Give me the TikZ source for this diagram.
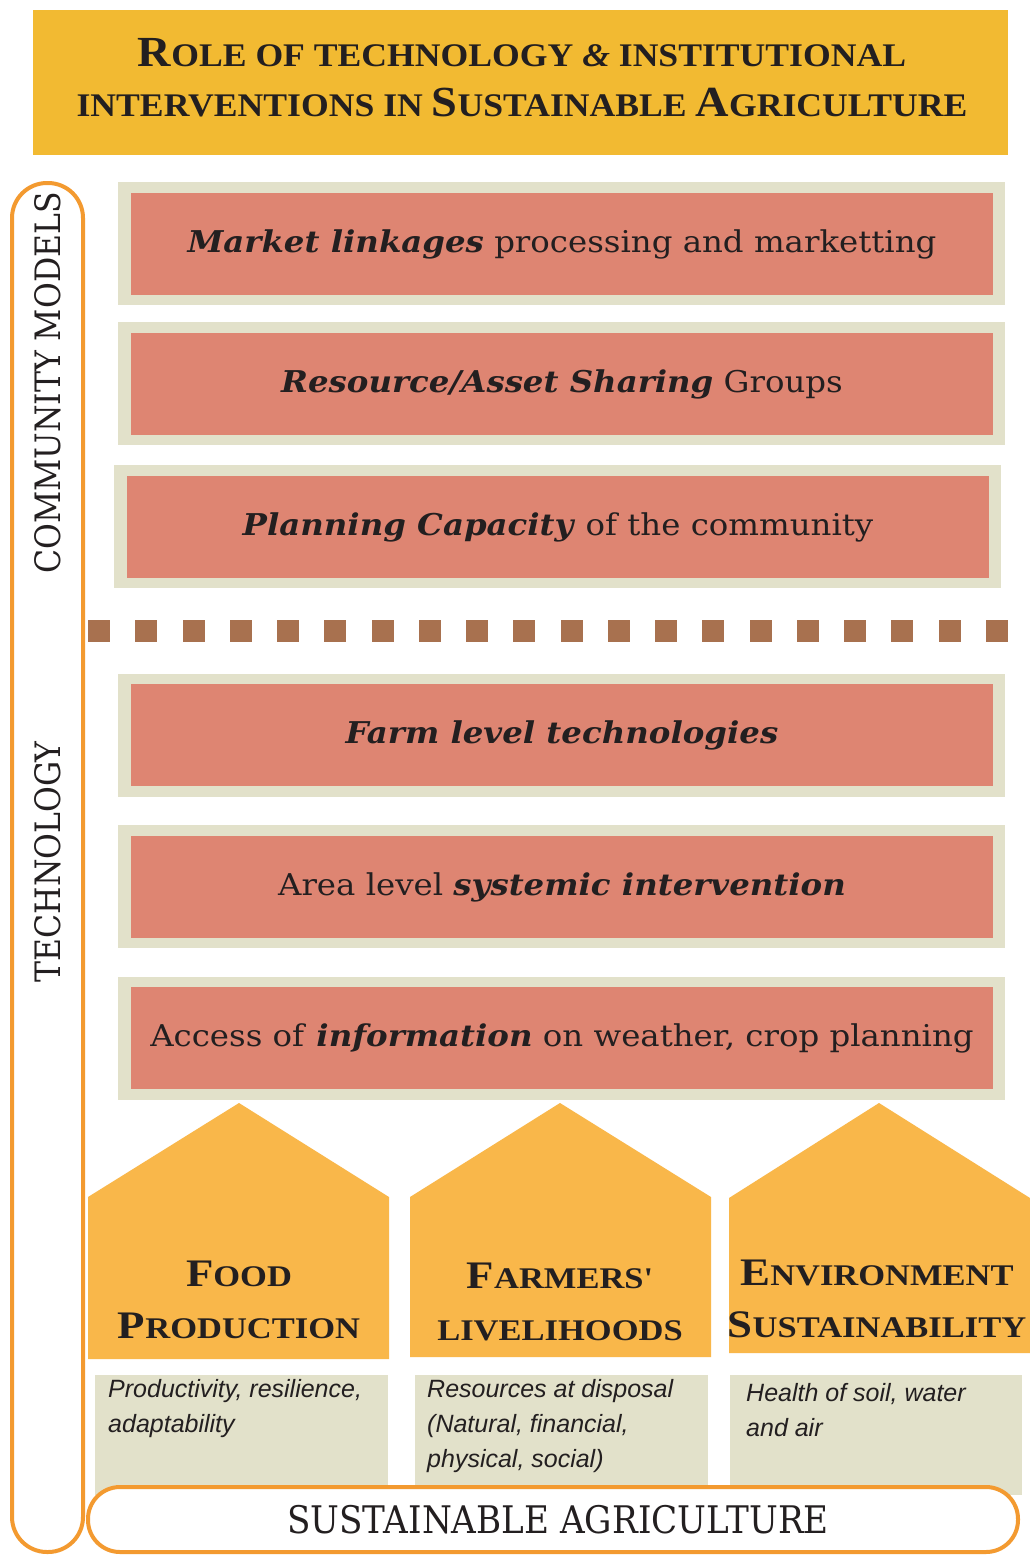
\documentclass[tikz,border=0pt]{standalone}
\usepackage{fontspec}
\usepackage{graphicx}
\setmainfont{DejaVu Serif}
\newfontfamily\titlefont{Liberation Serif}[FakeStretch=1.08]
\newfontfamily\housefont{Liberation Serif}[FakeStretch=1.15]
\newfontfamily\barfont{DejaVu Serif}[FakeStretch=1.08]
\newfontfamily\slabfont{DejaVu Serif}[FakeStretch=0.9]
\newfontfamily\notefont{Liberation Sans}

\definecolor{titlegold}{HTML}{F2BA32}
\definecolor{housegold}{HTML}{F9B74A}
\definecolor{barsalmon}{HTML}{DE8572}
\definecolor{barbeige}{HTML}{E2E1CA}
\definecolor{squarebrown}{HTML}{A8714F}
\definecolor{pillorange}{HTML}{F39A30}
\definecolor{inkdark}{HTML}{231F20}

% a larger capital in front of small capitals
\newcommand\leadcap[1]{\scalebox{1.3}{#1}}

\tikzset{
  barback/.style={fill=barbeige, minimum width=887pt, minimum height=123pt, inner sep=0pt},
  barface/.style={fill=barsalmon, minimum width=862pt, minimum height=102pt, inner sep=0pt,
    text=inkdark, font=\barfont\fontsize{30}{30}\selectfont},
  houselabel/.style={text=inkdark, align=center, font=\housefont\bfseries\fontsize{30}{52}\selectfont},
  notebox/.style={fill=barbeige},
  notetext/.style={anchor=north west, align=left, inner sep=0pt, text=inkdark,
    font=\notefont\itshape\fontsize{25}{35}\selectfont},
  pillline/.style={draw=pillorange, line width=4pt},
  sidelabel/.style={rotate=90, text=inkdark, font=\slabfont\fontsize{35}{35}\selectfont}
}

\begin{document}
\begin{tikzpicture}[x=1pt, y=-1pt]
	\useasboundingbox (0,0) rectangle (1030,1555);
	\fill[white] (0,0) rectangle (1030,1555);

	% title
	\fill[titlegold] (33,10) rectangle (1008,155);
	\node[text=inkdark, align=center, font=\titlefont\bfseries\fontsize{33}{50}\selectfont]
	  (title) at (522,78)
	  {\leadcap{R}OLE OF TECHNOLOGY \textit{\&} INSTITUTIONAL\\
	   INTERVENTIONS IN \leadcap{S}USTAINABLE \leadcap{A}GRICULTURE};

	% left frame
	\draw[pillline, rounded corners=35pt] (12,183) rectangle (83,1552);
	\node[sidelabel] (community) at (48,383) {COMMUNITY MODELS};
	\node[sidelabel] (technology) at (48,862) {TECHNOLOGY};

	% community bars
	\node[barback] (market back) at (561.5,243.5) {};
	\node[barface] (market) at (562,244) {\textbf{\textit{Market linkages}} processing and marketting};
	\node[barback] (sharing back) at (561.5,383.5) {};
	\node[barface] (sharing) at (562,384) {\textbf{\textit{Resource/Asset Sharing}} Groups};
	\node[barback] (planning back) at (557,526.5) {};
	\node[barface] (planning) at (558,527) {\textbf{\textit{Planning Capacity}} of the community};

	% divider
	\foreach \i in {0,...,19}
	  \fill[squarebrown] ({88+47.26*\i},620) rectangle +(22,22);

	% technology bars
	\node[barback] (farm back) at (561.5,735) {};
	\node[barface] (farm) at (562,735) {\textbf{\textit{Farm level technologies}}};
	\node[barback] (area back) at (561.5,886.5) {};
	\node[barface] (area) at (562,887) {Area level \textbf{\textit{systemic intervention}}};
	\node[barback] (info back) at (561.5,1038) {};
	\node[barface] (info) at (562,1038) {Access of \textbf{\textit{information}} on weather, crop planning};

	% houses
	\fill[housegold] (88,1359) -- (88,1197) -- (239,1103) -- (389,1197) -- (389,1359) -- cycle;
	\fill[housegold] (410,1357) -- (410,1197) -- (560,1103) -- (711,1197) -- (711,1357) -- cycle;
	\fill[housegold] (729,1353) -- (729,1198) -- (879,1103) -- (1030,1198) -- (1030,1353) -- cycle;
	\node[houselabel] (food) at (239,1300) {\leadcap{F}OOD\\\leadcap{P}RODUCTION};
	\node[houselabel] (farmers) at (560,1302) {\leadcap{F}ARMERS'\\LIVELIHOODS};
	\node[houselabel] (environment) at (877,1299) {\leadcap{E}NVIRONMENT\\\leadcap{S}USTAINABILITY};

	% notes
	\fill[notebox] (95,1375) rectangle (388,1495);
	\fill[notebox] (415,1375) rectangle (708,1495);
	\fill[notebox] (730,1375) rectangle (1022,1495);
	\node[notetext] (food note) at (108,1379) {Productivity, resilience,\\adaptability};
	\node[notetext] (farmers note) at (427,1379) {Resources at disposal\\(Natural, financial,\\physical, social)};
	\node[notetext] (environment note) at (746,1383) {Health of soil, water\\and air};

	% base
	\draw[pillline, fill=white, rounded corners=32pt] (88,1487) rectangle (1018,1552);
	\node[text=inkdark, font=\slabfont\fontsize{38}{38}\selectfont] (base) at (558,1520) {SUSTAINABLE AGRICULTURE};
\end{tikzpicture}
\end{document}
